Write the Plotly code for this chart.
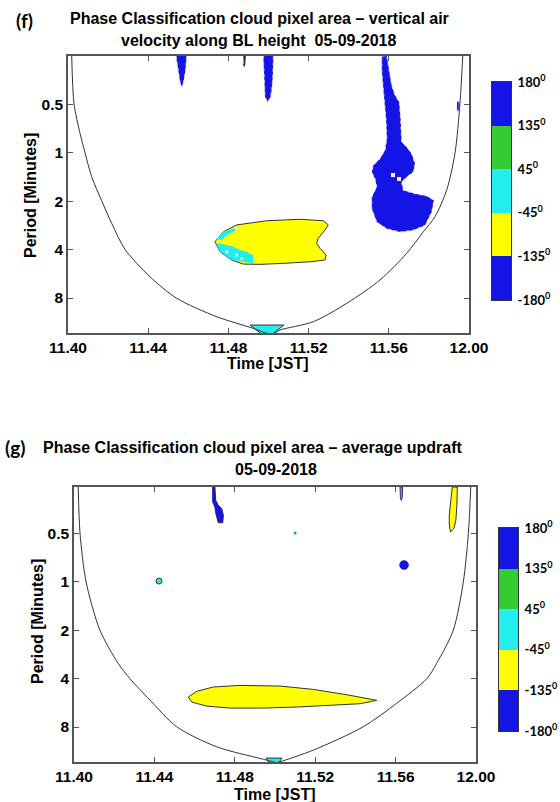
import math
import plotly.graph_objects as go

# ---------------- colours ----------------
BLUE = "#1414E6"
GREEN = "#33CC33"
CYAN = "#22EEEE"
YELLOW = "#FFFF00"

# ---------------- axes / labels ----------------
time_ticks = [0, 4, 8, 12, 16, 20]          # minutes after 11:40 JST
time_labels = ["11.40", "11.44", "11.48", "11.52", "11.56", "12.00"]
period_ticks = [0.5, 1, 2, 4, 8]
period_labels = ["0.5", "1", "2", "4", "8"]
phase_ticks = [0, 1, 2, 3, 4, 5]
phase_labels = ["-180<sup>0</sup>", "-135<sup>0</sup>", "-45<sup>0</sup>",
                "45<sup>0</sup>", "135<sup>0</sup>", "180<sup>0</sup>"]
phase_bins = [0.5, 1.5, 2.5, 3.5, 4.5]
phase_classes = [0, 1, 2, 3, 4]
phase_colors = [BLUE, YELLOW, CYAN, GREEN, BLUE]

# ---------------- panel (f) data ----------------
f_coi_t = [0.185, 0.30, 0.60, 0.85, 1.18, 1.68, 2.18, 2.84, 4.09, 5.42, 7.42, 9.24, 9.91, 10.2,
           10.57, 12.23, 13.90, 15.56, 16.89, 17.72, 18.30, 18.89, 19.30, 19.55, 19.69]
f_coi_p = [0.25, 0.496, 0.756, 0.999, 1.408, 1.986, 2.745, 3.98, 5.90, 8.03, 10.46, 12.35, 13.26, 13.4,
           12.65, 11.24, 8.63, 6.18, 4.22, 3.10, 2.50, 1.70, 1.007, 0.492, 0.25]

f_blue_big_t = [15.65, 15.90, 16.14, 16.31, 16.52, 16.59, 16.64, 16.89, 17.14, 17.31, 17.22, 16.89,
                16.64, 16.72, 17.31, 17.89, 18.25, 18.14, 17.81, 17.22, 16.56, 15.90, 15.40, 15.15,
                15.15, 15.40, 15.31, 15.15, 15.23, 15.56, 15.81, 15.90, 15.86, 15.76, 15.65, 15.65]
f_blue_big_p = [0.25, 0.25, 0.380, 0.439, 0.483, 0.614, 0.857, 0.920, 1.013, 1.169, 1.316, 1.414,
                1.519, 1.711, 1.797, 1.856, 1.974, 2.335, 2.825, 3.03, 3.11, 2.965, 2.695, 2.226,
                1.883, 1.632, 1.449, 1.316, 1.196, 1.088, 0.965, 0.817, 0.614, 0.439, 0.314, 0.25]
f_blue_gap_t = [16.21, 16.51]
f_blue_gap_p = [1.375, 1.455]

f_drip1_t = [5.39, 5.49, 5.59, 5.67, 5.76, 5.86, 5.92]
f_drip1_p = [0.25, 0.306, 0.363, 0.390, 0.363, 0.306, 0.25]
f_drip2_t = [9.74, 9.78, 9.80, 9.83, 9.96, 10.10, 10.17, 10.22, 10.24]
f_drip2_p = [0.25, 0.328, 0.395, 0.450, 0.483, 0.450, 0.395, 0.328, 0.25]
f_thin_t = [8.75, 8.84, 8.82, 8.79, 8.76]
f_thin_p = [0.25, 0.25, 0.28, 0.29, 0.28]
f_sliver_t = [19.40, 19.50, 19.50, 19.45, 19.40]
f_sliver_p = [0.483, 0.483, 0.53, 0.55, 0.53]

f_yellow_t = [7.33, 7.75, 8.41, 9.91, 11.57, 12.73, 12.98, 12.82, 12.48, 12.40, 12.57, 12.87,
              12.82, 12.07, 10.74, 9.58, 8.74, 8.16, 7.58, 7.33]
f_yellow_p = [3.57, 3.10, 2.81, 2.645, 2.59, 2.645, 2.81, 3.02, 3.40, 3.66, 3.93, 4.32,
              4.64, 4.76, 4.87, 4.94, 4.92, 4.64, 4.12, 3.57]
f_cyan_a_t = [7.38, 7.75, 8.49, 8.41, 8.08, 7.83, 7.67, 7.38]
f_cyan_a_p = [3.45, 3.10, 2.88, 3.02, 3.17, 3.33, 3.49, 3.45]
f_cyan_b_t = [7.38, 7.58, 8.16, 9.24, 9.24, 8.91, 8.58, 8.24, 7.92, 7.58, 7.38]
f_cyan_b_p = [3.66, 4.12, 4.64, 4.87, 4.32, 4.12, 4.02, 3.84, 3.74, 3.66, 3.66]
f_cyan_gap_t = [8.38, 7.92, 8.41, 8.66]
f_cyan_gap_p = [2.95, 4.12, 4.32, 4.53]
f_cyan_bottom_t = [9.08, 10.77, 10.17, 9.68, 9.08]
f_cyan_bottom_p = [11.78, 11.78, 13.5, 13.5, 11.78]

# ---------------- panel (g) data ----------------
g_coi_t = [0.21, 0.30, 0.60, 1.29, 2.20, 2.79, 3.78, 5.11, 7.10, 9.25, 9.92, 10.1,
           10.25, 11.91, 14.39, 16.05, 17.55, 18.04, 18.87, 19.37, 19.62, 19.74]
g_coi_p = [0.2575, 0.50, 1.0, 2.0, 3.22, 4.01, 5.44, 7.97, 10.62, 12.54, 13.16, 13.3,
           13.16, 11.13, 7.97, 5.70, 4.01, 3.22, 2.0, 1.0, 0.50, 0.2575]

g_blue_drip_t = [6.90, 6.90, 7.01, 7.06, 7.18, 7.40, 7.43, 7.35, 7.18, 7.05, 7.01, 6.90]
g_blue_drip_p = [0.2575, 0.319, 0.343, 0.378, 0.4295, 0.4295, 0.386, 0.351, 0.335, 0.3115, 0.2575, 0.2575]
g_purple_t = [16.22, 16.35, 16.33, 16.28, 16.24, 16.22]
g_purple_p = [0.2575, 0.2575, 0.30, 0.312, 0.30, 0.2575]
g_yellow_top_t = [18.82, 19.07, 19.05, 19.00, 18.91, 18.73, 18.67, 18.67, 18.74, 18.82]
g_yellow_top_p = [0.2575, 0.2575, 0.333, 0.413, 0.463, 0.4905, 0.444, 0.385, 0.319, 0.2575]
g_yellow_t = [5.69, 6.10, 6.93, 8.26, 10.25, 11.91, 13.57, 15.06, 14.23, 12.74, 11.08, 9.42,
              7.76, 6.60, 5.86, 5.69]
g_yellow_p = [5.21, 4.80, 4.51, 4.41, 4.45, 4.67, 5.04, 5.46, 5.73, 5.87, 6.01, 6.10,
              6.10, 5.93, 5.60, 5.21]
g_cyan_bottom_t = [9.55, 10.35, 10.15, 9.75, 9.55]
g_cyan_bottom_p = [12.48, 12.48, 13.5, 13.5, 12.48]
g_cyan_dot_t = [4.23]
g_cyan_dot_p = [0.99]
g_teal_dot_t = [11.0]
g_teal_dot_p = [0.498]
g_blue_dot_t = [16.42]
g_blue_dot_p = [0.787]

W, H = 560, 802
fig = go.Figure()


def poly(t, p, fill, xa, ya, line="#333333", width=1, dash="solid"):
    fig.add_trace(go.Scatter(x=t, y=p, mode="lines", fill="toself", fillcolor=fill,
                             line=dict(color=line, width=width, dash=dash),
                             xaxis=xa, yaxis=ya, hoverinfo="skip", showlegend=False))


def dots(t, p, color, size, xa, ya, symbol="circle", line="#333333", lw=0):
    fig.add_trace(go.Scatter(x=t, y=p, mode="markers",
                             marker=dict(color=color, size=size, symbol=symbol,
                                         line=dict(color=line, width=lw)),
                             xaxis=xa, yaxis=ya, hoverinfo="skip", showlegend=False))


def coi(t, p, xa, ya):
    fig.add_trace(go.Scatter(x=t, y=p, mode="lines",
                             line=dict(color="#333333", width=1, shape="spline", smoothing=0.8),
                             xaxis=xa, yaxis=ya, hoverinfo="skip", showlegend=False))


# panel f shapes
poly(f_blue_big_t, f_blue_big_p, BLUE, "x", "y", line="#D8D8F0", width=1, dash="dot")
dots(f_blue_gap_t, f_blue_gap_p, "white", 4, "x", "y", symbol="square")
poly(f_drip1_t, f_drip1_p, BLUE, "x", "y", line="#C8C8E8", width=1, dash="dot")
poly(f_drip2_t, f_drip2_p, BLUE, "x", "y", line="#C8C8E8", width=1, dash="dot")
poly(f_thin_t, f_thin_p, "#222244", "x", "y", line="#222244", width=1)
poly(f_sliver_t, f_sliver_p, BLUE, "x", "y", line="#6666CC", width=1)
poly(f_yellow_t, f_yellow_p, YELLOW, "x", "y", line="#333333", width=1)
poly(f_cyan_a_t, f_cyan_a_p, CYAN, "x", "y", line="rgba(0,0,0,0)", width=0)
poly(f_cyan_b_t, f_cyan_b_p, CYAN, "x", "y", line="rgba(0,0,0,0)", width=0)
dots(f_cyan_gap_t, f_cyan_gap_p, "white", 3, "x", "y")
poly(f_cyan_bottom_t, f_cyan_bottom_p, CYAN, "x", "y", line="#333333", width=1)
coi(f_coi_t, f_coi_p, "x", "y")

# panel g shapes
poly(g_blue_drip_t, g_blue_drip_p, BLUE, "x2", "y2", line="#222266", width=1)
poly(g_purple_t, g_purple_p, "#8A8AD0", "x2", "y2", line="#333366", width=1)
poly(g_yellow_top_t, g_yellow_top_p, YELLOW, "x2", "y2", line="#333333", width=1)
poly(g_yellow_t, g_yellow_p, YELLOW, "x2", "y2", line="#333333", width=1)
poly(g_cyan_bottom_t, g_cyan_bottom_p, CYAN, "x2", "y2", line="#333333", width=1)
dots(g_cyan_dot_t, g_cyan_dot_p, CYAN, 6, "x2", "y2", line="#333333", lw=1)
dots(g_teal_dot_t, g_teal_dot_p, "#1A9E9E", 3, "x2", "y2")
dots(g_blue_dot_t, g_blue_dot_p, BLUE, 9, "x2", "y2", line="#2222AA", lw=0.5)
coi(g_coi_t, g_coi_p, "x2", "y2")

# discrete colour key (drawn as heatmap cells on their own axes)
n = len(phase_colors)
scale = []
for i, c in enumerate(phase_colors):
    scale.append([i / n, c])
    scale.append([(i + 1) / n, c])
for xa, ya in (("x3", "y3"), ("x4", "y4")):
    fig.add_trace(go.Heatmap(x=[0], y=phase_bins, z=[[v] for v in phase_classes],
                             zmin=-0.5, zmax=n - 0.5, colorscale=scale, showscale=False,
                             xaxis=xa, yaxis=ya, hoverinfo="skip"))

TICKFONT = dict(family="Liberation Sans, Arial, sans-serif", size=15.5, color="black", weight="bold")
AX = dict(showgrid=False, zeroline=False, showline=True, linecolor="#555555", linewidth=1.5,
          mirror="ticks", ticks="inside", ticklen=5, tickcolor="#555555", tickwidth=1,
          tickfont=TICKFONT, automargin=False)
CBX = dict(showgrid=False, zeroline=False, showline=True, mirror=True, linecolor="#333333",
           linewidth=1, showticklabels=False, ticks="", range=[-0.5, 0.5], fixedrange=True,
           automargin=False)
CBY = dict(showgrid=False, zeroline=False, showline=True, mirror=True, linecolor="#333333",
           linewidth=1, side="right", range=[0, 5], tickvals=phase_ticks, ticktext=phase_labels,
           ticks="outside", ticklen=3, tickcolor="rgba(0,0,0,0)", automargin=False,
           tickfont=dict(family="Lato, Open Sans, sans-serif", size=13, color="black", weight="bold"))

fig.update_layout(
    template="none",
    width=W, height=H, margin=dict(l=0, r=0, t=0, b=0, autoexpand=False),
    paper_bgcolor="white", plot_bgcolor="white", showlegend=False,
    xaxis=dict(AX, domain=[68 / W, 469 / W], range=[0, 20], tickvals=time_ticks,
               ticktext=time_labels, anchor="y"),
    yaxis=dict(AX, domain=[1 - 333 / H, 1 - 56 / H], type="log",
               range=[math.log10(13.2), math.log10(0.25)], tickvals=period_ticks,
               ticktext=period_labels, anchor="x"),
    xaxis2=dict(AX, domain=[74 / W, 476 / W], range=[0, 20], tickvals=time_ticks,
                ticktext=time_labels, anchor="y2"),
    yaxis2=dict(AX, domain=[1 - 762 / H, 1 - 487 / H], type="log",
                range=[math.log10(13.2), math.log10(0.2575)], tickvals=period_ticks,
                ticktext=period_labels, anchor="x2"),
    xaxis3=dict(CBX, domain=[492 / W, 511 / W], anchor="y3"),
    yaxis3=dict(CBY, domain=[1 - 300 / H, 1 - 82 / H], anchor="x3"),
    xaxis4=dict(CBX, domain=[499 / W, 518 / W], anchor="y4"),
    yaxis4=dict(CBY, domain=[1 - 731 / H, 1 - 528 / H], anchor="x4"),
)

TF = dict(family="Liberation Sans, Arial, sans-serif", size=16, color="black", weight="bold")
LF = dict(family="Lato, Open Sans, sans-serif", size=19, color="black", weight="bold")


def ann(text, x, y, font, angle=0):
    fig.add_annotation(text=text, x=x / W, y=1 - y / H, xref="paper", yref="paper",
                       xanchor="center", yanchor="middle", showarrow=False, font=font,
                       textangle=angle)


ann("(f)", 24, 21, LF)
ann("Phase Classification cloud pixel area – vertical air", 259, 18.5, TF)
ann("velocity along BL height  05-09-2018", 258, 40.5, TF)
ann("Time [JST]", 268, 364, TF)
ann("Period [Minutes]", 30, 196, TF, angle=-90)

ann("(g)", 15, 447, LF)
ann("Phase Classification cloud pixel area – average updraft", 253, 447, TF)
ann("05-09-2018", 276, 469, TF)
ann("Time [JST]", 275, 794, TF)
ann("Period [Minutes]", 37, 622, TF, angle=-90)

fig.write_html("out.html")
